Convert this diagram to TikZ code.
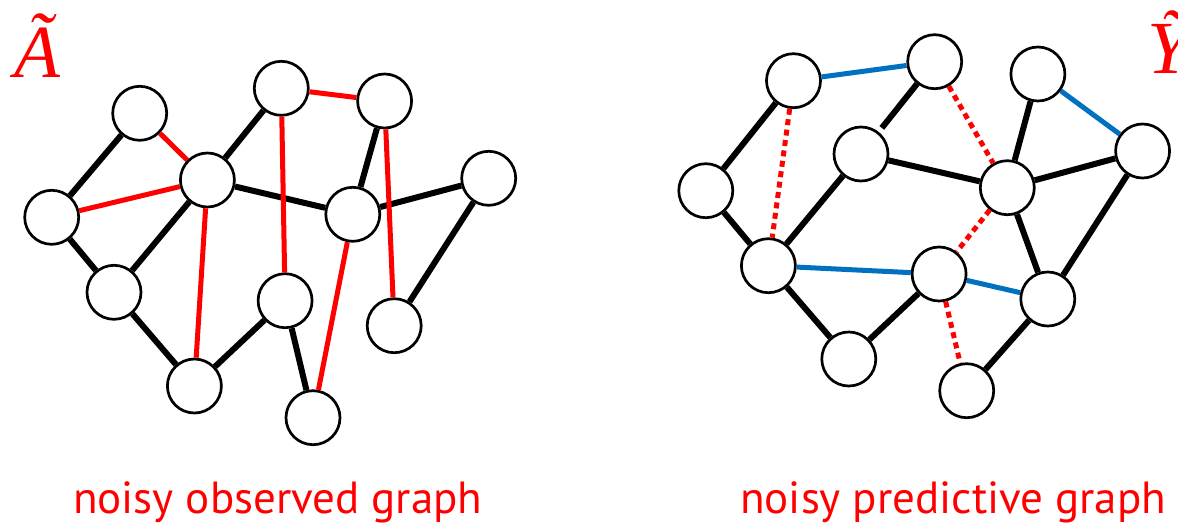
\documentclass[tikz,border=0pt]{standalone}
\usepackage{fontspec}
\newfontfamily\tnr{Liberation Serif}
\newfontfamily\labfont{PT Sans}
\definecolor{ered}{RGB}{255,0,0}
\definecolor{eblue}{RGB}{0,112,192}
\tikzset{
  vtx/.style={circle, draw=black, line width=2.7pt, fill=white, minimum size=54pt, inner sep=0pt},
  blk/.style={draw=black, line width=6pt},
  rde/.style={draw=ered, line width=5pt},
  blu/.style={draw=eblue, line width=5pt},
  rdot/.style={draw=ered, line width=5pt, dash pattern=on 6pt off 4.5pt},
  biglab/.style={text=ered, inner sep=0pt, anchor=base west, font=\tnr\itshape\fontsize{75}{75}\selectfont},
  caplab/.style={text=ered, inner sep=0pt, anchor=base west, font=\labfont\fontsize{45}{45}\selectfont}
}
\begin{document}
\begin{tikzpicture}[x=1pt,y=-1pt]
\useasboundingbox (0,0) rectangle (1178,525);
% left graph nodes
\node[vtx] (L1) at (139.7,113.3) {};
\node[vtx] (L2) at (207.4,180) {};
\node[vtx] (L3) at (281.3,88.3) {};
\node[vtx] (L4) at (384.6,101) {};
\node[vtx] (L5) at (51.7,217.3) {};
\node[vtx] (L6) at (114,292.3) {};
\node[vtx] (L7) at (194.4,386) {};
\node[vtx] (L8) at (285.1,300.7) {};
\node[vtx] (L9) at (313,417.7) {};
\node[vtx] (L10) at (352.8,214.3) {};
\node[vtx] (L11) at (488.7,178.3) {};
\node[vtx] (L12) at (394.2,325.7) {};
% left edges
\draw[blk] (L5) -- (L1);
\draw[blk] (L5) -- (L6);
\draw[blk] (L6) -- (L2);
\draw[blk] (L2) -- (L3);
\draw[blk] (L2) -- (L10);
\draw[blk] (L10) -- (L11);
\draw[blk] (L10) -- (L4);
\draw[blk] (L11) -- (L12);
\draw[blk] (L6) -- (L7);
\draw[blk] (L7) -- (L8);
\draw[blk] (L8) -- (L9);
\draw[rde] (L1) -- (L2);
\draw[rde] (L5) -- (L2);
\draw[rde] (L3) -- (L4);
\draw[rde] (L3) -- (L8);
\draw[rde] (L2) -- (L7);
\draw[rde] (L10) -- (L9);
\draw[rde] (L4) -- (L12);
% right graph nodes
\node[vtx] (R1) at (793.5,80.7) {};
\node[vtx] (R2) at (934.7,61.7) {};
\node[vtx] (R3) at (1037.9,74) {};
\node[vtx] (R4) at (1142.6,151) {};
\node[vtx] (R5) at (861,154) {};
\node[vtx] (R6) at (1007.3,187.7) {};
\node[vtx] (R7) at (705.8,190.7) {};
\node[vtx] (R8) at (768.4,265.7) {};
\node[vtx] (R9) at (939.1,274) {};
\node[vtx] (R10) at (1047.8,299) {};
\node[vtx] (R11) at (848.8,359) {};
\node[vtx] (R12) at (966.7,390.7) {};
% right edges
\draw[blk] (R7) -- (R1);
\draw[blk] (R7) -- (R8);
\draw[blk] (R8) -- (R5);
\draw[blk] (R5) -- (R6);
\draw[blk] (R6) -- (R3);
\draw[blk] (R6) -- (R4);
\draw[blk] (R6) -- (R10);
\draw[blk] (R4) -- (R10);
\draw[blk] (R10) -- (R12);
\draw[blk] (R8) -- (R11);
\draw[blk] (R11) -- (R9);
\draw[blk, shorten >=5pt] (R2) -- (R5);
\draw[blu] (R1) -- (R2);
\draw[blu] (R3) -- (R4);
\draw[blu] (R8) -- (R9);
\draw[blu] (R9) -- (R10);
\draw[rdot] (R1) -- (R8);
\draw[rdot] (R2) -- (R6);
\draw[rdot] (R6) -- (R9);
\draw[rdot] (R9) -- (R12);
% labels
\node[biglab] (At) at (14,77) {Ã};
\node[biglab] (Yt) at (1147,73) {Ỹ};
\node[caplab] (c1) at (73,513) {noisy observed graph};
\node[caplab] (c2) at (740,513) {noisy predictive graph};
\end{tikzpicture}
\end{document}
